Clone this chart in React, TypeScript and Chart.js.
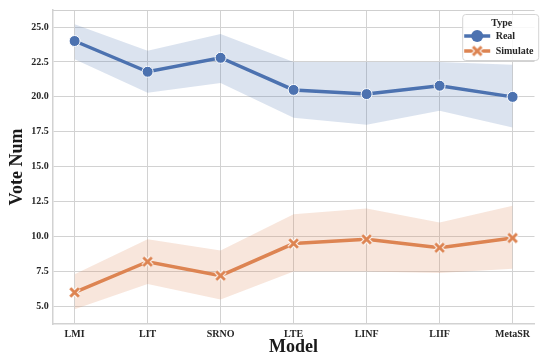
import { useEffect, useRef } from "react";
import { Chart, registerables } from "chart.js";

Chart.register(...registerables);

const categories = ["LMI", "LIT", "SRNO", "LTE", "LINF", "LIIF", "MetaSR"];
const realMean = [24.0, 21.8, 22.8, 20.5, 20.2, 20.8, 20.0];
const realUpper = [25.2, 23.3, 24.5, 22.5, 22.5, 22.5, 22.3];
const realLower = [22.7, 20.3, 21.0, 18.5, 18.0, 19.0, 17.8];
const simMean = [6.0, 8.2, 7.2, 9.5, 9.8, 9.2, 9.9];
const simUpper = [7.3, 9.8, 9.0, 11.6, 12.0, 11.0, 12.2];
const simLower = [4.8, 6.6, 5.5, 7.5, 7.5, 7.4, 7.7];
const yTicks = [5, 7.5, 10, 12.5, 15, 17.5, 20, 22.5, 25];

const BLUE = "#4c72b0";
const ORANGE = "#dd8452";
const FONT = "'Liberation Serif', 'Times New Roman', serif";

function makeXMarker(color: string, size: number) {
  const c = document.createElement("canvas");
  c.width = size;
  c.height = size;
  const g = c.getContext("2d")!;
  const m = size / 2;
  const a = size / 2 - 2.2;
  const drawX = (w: number, col: string) => {
    g.strokeStyle = col;
    g.lineWidth = w;
    g.lineCap = "butt";
    g.beginPath();
    g.moveTo(m - a, m - a);
    g.lineTo(m + a, m + a);
    g.moveTo(m + a, m - a);
    g.lineTo(m - a, m + a);
    g.stroke();
  };
  drawX(5, "#ffffff");
  drawX(3, color);
  return c;
}

const toPts = (arr: number[]) => arr.map((v, i) => ({ x: i, y: v }));

export default function App() {
  const ref = useRef<HTMLCanvasElement | null>(null);

  useEffect(() => {
    if (!ref.current) return;
    const xMarker = makeXMarker(ORANGE, 13);

    const entries = [
      { label: "Real", color: BLUE, marker: "circle" },
      { label: "Simulate", color: ORANGE, marker: "x" },
    ];

    const framePlugin = {
      id: "frame",
      beforeDatasetsDraw(chart: any) {
        const { ctx, chartArea } = chart;
        ctx.save();
        ctx.strokeStyle = "#cfcfcf";
        ctx.lineWidth = 1.2;
        ctx.beginPath();
        ctx.moveTo(chartArea.left, chartArea.top + 0.5);
        ctx.lineTo(chartArea.right, chartArea.top + 0.5);
        ctx.stroke();
        ctx.restore();
      },
      afterDraw(chart: any) {
        const { ctx, chartArea } = chart;
        ctx.save();
        const w = 76;
        const h = 46;
        const x = chartArea.left + 410;
        const y = chartArea.top + 4.5;
        ctx.beginPath();
        (ctx as any).roundRect(x, y, w, h, 3);
        ctx.fillStyle = "rgba(255,255,255,0.85)";
        ctx.fill();
        ctx.strokeStyle = "#d4d4d4";
        ctx.lineWidth = 1;
        ctx.stroke();

        ctx.fillStyle = "#262626";
        ctx.font = `bold 10px ${FONT}`;
        ctx.textAlign = "center";
        ctx.textBaseline = "middle";
        ctx.fillText("Type", x + 39, y + 9);

        entries.forEach((e, i) => {
          const ly = y + 21.5 + i * 15;
          const lx0 = x + 1.5;
          const lx1 = x + 27.5;
          ctx.strokeStyle = e.color;
          ctx.lineWidth = 3.5;
          ctx.beginPath();
          ctx.moveTo(lx0, ly);
          ctx.lineTo(lx1, ly);
          ctx.stroke();
          const cx = (lx0 + lx1) / 2;
          if (e.marker === "circle") {
            ctx.beginPath();
            ctx.arc(cx, ly, 6, 0, Math.PI * 2);
            ctx.fillStyle = e.color;
            ctx.fill();
          } else {
            ctx.drawImage(xMarker, cx - 6.5, ly - 6.5);
          }
          ctx.fillStyle = "#262626";
          ctx.textAlign = "left";
          ctx.fillText(e.label, x + 33, ly);
        });
        ctx.restore();
      },
    };

    const chart = new Chart(ref.current, {
      type: "line",
      data: {
        datasets: [
          {
            label: "Real",
            data: toPts(realMean),
            borderColor: BLUE,
            backgroundColor: BLUE,
            borderWidth: 3.5,
            pointStyle: "circle",
            pointRadius: 5.5,
            pointBorderColor: "#ffffff",
            pointBorderWidth: 1,
            pointBackgroundColor: BLUE,
            fill: false,
            order: 0,
          },
          {
            label: "Simulate",
            data: toPts(simMean),
            borderColor: ORANGE,
            backgroundColor: ORANGE,
            borderWidth: 3.5,
            pointStyle: xMarker as any,
            pointRadius: 6,
            fill: false,
            order: 0,
          },
          {
            label: "realUpper",
            data: toPts(realUpper),
            borderWidth: 0,
            pointRadius: 0,
            backgroundColor: "rgba(76,114,176,0.2)",
            fill: "+1",
            order: 1,
          },
          {
            label: "realLower",
            data: toPts(realLower),
            borderWidth: 0,
            pointRadius: 0,
            fill: false,
            order: 1,
          },
          {
            label: "simUpper",
            data: toPts(simUpper),
            borderWidth: 0,
            pointRadius: 0,
            backgroundColor: "rgba(221,132,82,0.2)",
            fill: "+1",
            order: 1,
          },
          {
            label: "simLower",
            data: toPts(simLower),
            borderWidth: 0,
            pointRadius: 0,
            fill: false,
            order: 1,
          },
        ],
      },
      options: {
        animation: false,
        responsive: false,
        maintainAspectRatio: false,
        layout: { padding: { top: 8.6, left: 0, right: 0, bottom: 0 } },
        plugins: {
          legend: { display: false },
          tooltip: { enabled: false },
        },
        scales: {
          x: {
            type: "linear",
            min: -0.3,
            max: 6.3,
            afterBuildTicks: (scale: any) => {
              scale.ticks = categories.map((_, i) => ({ value: i }));
            },
            afterFit: (scale: any) => {
              scale.height = 34;
            },
            ticks: {
              callback: (v: any) => categories[Math.round(Number(v))] ?? "",
              font: { family: FONT, size: 10, weight: "bold" },
              color: "#262626",
              padding: 4,
              maxRotation: 0,
              autoSkip: false,
            },
            grid: { color: "#d2d2d2", lineWidth: 1, drawTicks: false },
            border: { display: true, color: "#d2d2d2", width: 1.5 },
            title: {
              display: true,
              text: "Model",
              font: { family: FONT, size: 18, weight: "bold" },
              color: "#1a1a1a",
              padding: { top: 0, bottom: 0 },
            },
          },
          y: {
            type: "linear",
            min: 3.74,
            max: 26.22,
            afterBuildTicks: (scale: any) => {
              scale.ticks = yTicks.map((v) => ({ value: v }));
            },
            afterFit: (scale: any) => {
              scale.width = 52.7;
            },
            ticks: {
              callback: (v: any) => Number(v).toFixed(1),
              font: { family: FONT, size: 10, weight: "bold" },
              color: "#262626",
              padding: 4,
            },
            grid: { color: "#d2d2d2", lineWidth: 1, drawTicks: false },
            border: { display: true, color: "#d2d2d2", width: 1.5 },
            title: {
              display: true,
              text: "Vote Num",
              font: { family: FONT, size: 18, weight: "bold" },
              color: "#1a1a1a",
              padding: { top: 7, bottom: 0 },
            },
          },
        },
      },
      plugins: [framePlugin],
    });

    return () => chart.destroy();
  }, []);

  return (
    <div
      style={{
        position: "fixed",
        left: 0,
        top: 0,
        width: 540,
        height: 354,
        overflow: "hidden",
        background: "#ffffff",
      }}
    >
      <canvas ref={ref} width={544} height={358} style={{ display: "block", width: 544, height: 358 }} />
    </div>
  );
}
